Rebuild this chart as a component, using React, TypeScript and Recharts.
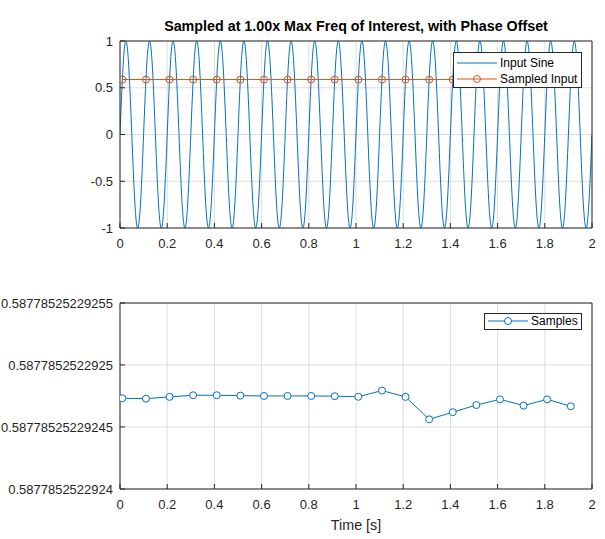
import { LineChart, Line, XAxis, YAxis, CartesianGrid, Legend, Label } from "recharts";

const BLUE = "#0072BD";
const ORANGE = "#D95319";
const AXIS = "#262626";
const GRID = "#dedede";
const FONT = "'Liberation Sans', Arial, Helvetica, sans-serif";

// input sine, one value every 0.0125 s (8 per cycle, 10 Hz)
const sineStep = 0.0125;
const sineValues = [
  0, 0.71, 1, 0.71, 0, -0.71, -1, -0.71,
  0, 0.71, 1, 0.71, 0, -0.71, -1, -0.71,
  0, 0.71, 1, 0.71, 0, -0.71, -1, -0.71,
  0, 0.71, 1, 0.71, 0, -0.71, -1, -0.71,
  0, 0.71, 1, 0.71, 0, -0.71, -1, -0.71,
  0, 0.71, 1, 0.71, 0, -0.71, -1, -0.71,
  0, 0.71, 1, 0.71, 0, -0.71, -1, -0.71,
  0, 0.71, 1, 0.71, 0, -0.71, -1, -0.71,
  0, 0.71, 1, 0.71, 0, -0.71, -1, -0.71,
  0, 0.71, 1, 0.71, 0, -0.71, -1, -0.71,
  0, 0.71, 1, 0.71, 0, -0.71, -1, -0.71,
  0, 0.71, 1, 0.71, 0, -0.71, -1, -0.71,
  0, 0.71, 1, 0.71, 0, -0.71, -1, -0.71,
  0, 0.71, 1, 0.71, 0, -0.71, -1, -0.71,
  0, 0.71, 1, 0.71, 0, -0.71, -1, -0.71,
  0, 0.71, 1, 0.71, 0, -0.71, -1, -0.71,
  0, 0.71, 1, 0.71, 0, -0.71, -1, -0.71,
  0, 0.71, 1, 0.71, 0, -0.71, -1, -0.71,
  0, 0.71, 1, 0.71, 0, -0.71, -1, -0.71,
  0, 0.71, 1, 0.71, 0, -0.71, -1, -0.71,
  0,
];

// sampling instants (10 Hz with a 0.01 s offset)
const sampleTimes = [
  0.01, 0.11, 0.21, 0.31, 0.41, 0.51, 0.61, 0.71, 0.81, 0.91,
  1.01, 1.11, 1.21, 1.31, 1.41, 1.51, 1.61, 1.71, 1.81, 1.91,
];

const sampleValues = [
  0.5877852522924731, 0.5877852522924728, 0.5877852522924742, 0.5877852522924756,
  0.5877852522924756, 0.5877852522924752, 0.587785252292475, 0.587785252292475,
  0.587785252292475, 0.5877852522924748, 0.5877852522924744, 0.5877852522924793,
  0.5877852522924742, 0.5877852522924562, 0.5877852522924619, 0.5877852522924677,
  0.5877852522924723, 0.5877852522924672, 0.5877852522924723, 0.5877852522924667,
];

const timeTicks = [0, 0.2, 0.4, 0.6, 0.8, 1, 1.2, 1.4, 1.6, 1.8, 2];
const topYTicks = [-1, -0.5, 0, 0.5, 1];
const bottomYTicks = [0.5877852522924, 0.58778525229245, 0.5877852522925, 0.58778525229255];
const bottomYLabels = ["0.5877852522924", "0.58778525229245", "0.5877852522925", "0.58778525229255"];

const sineData = sineValues.map((v, i) => ({ t: i * sineStep, v }));
const sampleData = sampleTimes.map((t, i) => ({ t, v: sampleValues[i] }));

const tickStyle = { fill: AXIS, fontSize: 13, fontFamily: FONT };

interface LegendRow {
  name: string;
  color: string;
  marker: boolean;
  markerFill: string;
}

function LegendBox({ rows, width, height }: { rows: LegendRow[]; width: number; height: number }) {
  return (
    <svg width={width} height={height} style={{ display: "block" }}>
      <rect x={0.5} y={0.5} width={width - 1} height={height - 1} fill="#fff" stroke={AXIS} />
      {rows.map((r, i) => {
        const cy = 8 + i * 16 + (rows.length > 1 ? 3 : 0);
        return (
          <g key={r.name}>
            <line x1={4} x2={44} y1={cy} y2={cy} stroke={r.color} strokeWidth={1} />
            {r.marker && <circle cx={24} cy={cy} r={3.5} fill={r.markerFill} stroke={r.color} />}
            <text x={47} y={cy} dy="0.36em" fontSize={12} fill="#000" fontFamily={FONT}>
              {r.name}
            </text>
          </g>
        );
      })}
    </svg>
  );
}

export default function App() {
  return (
    <div style={{ position: "absolute", left: 0, top: 0, width: 605, height: 539, background: "#fff" }}>
      <div style={{ position: "absolute", left: 0, top: 0 }}>
        <LineChart width={605} height={260} margin={{ top: 40, right: 12, bottom: 12, left: 0 }}>
          <CartesianGrid stroke={GRID} />
          {/* inward ticks on all four sides; the 1px top/right axes close the box */}
          <XAxis
            dataKey="t"
            type="number"
            domain={[0, 2]}
            ticks={timeTicks}
            interval={0}
            allowDataOverflow
            height={20}
            tickSize={-5}
            tickMargin={16}
            stroke={AXIS}
            tick={tickStyle}
          />
          <XAxis
            xAxisId="top"
            orientation="top"
            dataKey="t"
            type="number"
            domain={[0, 2]}
            ticks={timeTicks}
            interval={0}
            height={1}
            tickSize={-5}
            tick={false}
            stroke={AXIS}
          >
            <Label
              value="Sampled at 1.00x Max Freq of Interest, with Phase Offset"
              position="top"
              offset={9}
              style={{ fontWeight: "bold", fontSize: 14.3, fill: "#000", fontFamily: FONT }}
            />
          </XAxis>
          <YAxis
            type="number"
            domain={[-1, 1]}
            ticks={topYTicks}
            interval={0}
            allowDataOverflow
            width={120}
            tickSize={-5}
            tickMargin={12}
            stroke={AXIS}
            tick={tickStyle}
          />
          <YAxis
            yAxisId="right"
            orientation="right"
            type="number"
            domain={[-1, 1]}
            ticks={topYTicks}
            interval={0}
            width={1}
            tickSize={-5}
            tick={false}
            stroke={AXIS}
          />
          <Line
            data={sineData}
            dataKey="v"
            type="natural"
            stroke={BLUE}
            strokeWidth={1}
            dot={false}
            activeDot={false}
            isAnimationActive={false}
          />
          <Line
            data={sampleData}
            dataKey="v"
            type="linear"
            stroke={ORANGE}
            strokeWidth={1}
            dot={{ r: 3.5, fill: "none", stroke: ORANGE, strokeWidth: 1 }}
            activeDot={false}
            isAnimationActive={false}
          />
          <Legend
            layout="horizontal"
            verticalAlign="middle"
            align="center"
            wrapperStyle={{ position: "absolute", left: 453, top: 52, width: 129, height: 36 }}
            content={() => (
              <LegendBox
                width={129}
                height={36}
                rows={[
                  { name: "Input Sine", color: BLUE, marker: false, markerFill: "none" },
                  { name: "Sampled Input", color: ORANGE, marker: true, markerFill: "none" },
                ]}
              />
            )}
          />
        </LineChart>
      </div>
      <div style={{ position: "absolute", left: 0, top: 260 }}>
        <LineChart width={605} height={279} margin={{ top: 42, right: 12, bottom: 0, left: 0 }}>
          <CartesianGrid stroke={GRID} />
          <XAxis
            dataKey="t"
            type="number"
            domain={[0, 2]}
            ticks={timeTicks}
            interval={0}
            allowDataOverflow
            height={50}
            tickSize={-5}
            tickMargin={16}
            stroke={AXIS}
            tick={tickStyle}
          >
            <Label
              value="Time [s]"
              position="insideBottom"
              offset={9}
              style={{ fontSize: 14.3, fill: AXIS, fontFamily: FONT }}
            />
          </XAxis>
          <XAxis
            xAxisId="top"
            orientation="top"
            dataKey="t"
            type="number"
            domain={[0, 2]}
            ticks={timeTicks}
            interval={0}
            height={1}
            tickSize={-5}
            tick={false}
            stroke={AXIS}
          />
          <YAxis
            type="number"
            domain={[bottomYTicks[0], bottomYTicks[3]]}
            ticks={bottomYTicks}
            interval={0}
            allowDataOverflow
            width={120}
            tickSize={-5}
            tickMargin={12}
            stroke={AXIS}
            tick={tickStyle}
            tickFormatter={(v: number) => {
              const i = bottomYTicks.indexOf(v);
              return i >= 0 ? bottomYLabels[i] : String(v);
            }}
          />
          <YAxis
            yAxisId="right"
            orientation="right"
            type="number"
            domain={[bottomYTicks[0], bottomYTicks[3]]}
            ticks={bottomYTicks}
            interval={0}
            width={1}
            tickSize={-5}
            tick={false}
            stroke={AXIS}
          />
          <Line
            data={sampleData}
            dataKey="v"
            type="linear"
            stroke={BLUE}
            strokeWidth={1}
            dot={{ r: 3.5, fill: "#fff", stroke: BLUE, strokeWidth: 1 }}
            activeDot={false}
            isAnimationActive={false}
          />
          <Legend
            layout="horizontal"
            verticalAlign="middle"
            align="center"
            wrapperStyle={{ position: "absolute", left: 484, top: 53, width: 98, height: 17 }}
            content={() => (
              <LegendBox
                width={98}
                height={17}
                rows={[{ name: "Samples", color: BLUE, marker: true, markerFill: "#fff" }]}
              />
            )}
          />
        </LineChart>
      </div>
    </div>
  );
}
